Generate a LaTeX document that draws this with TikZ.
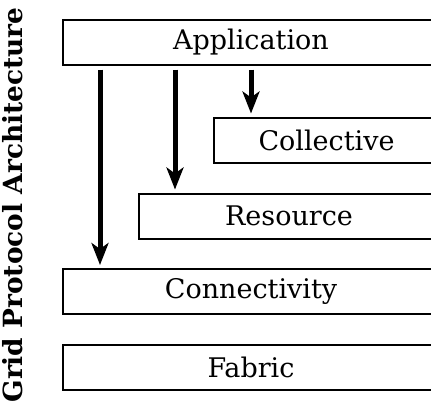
\documentclass[tikz,border=0pt]{standalone}
\usepackage{fontspec}
\setmainfont{DejaVu Serif}
\usetikzlibrary{arrows.meta}
\begin{document}
\begin{tikzpicture}[x=1pt,y=1pt,
  layer/.style={draw=black, line width=2pt, rectangle, minimum height=45pt, inner sep=0pt,
    anchor=west, font=\fontsize{27}{32}\selectfont},
  arr/.style={line width=5pt, -{Stealth[length=22pt,width=17pt,inset=6pt]}, shorten >=3pt, shorten <=4pt}]
\useasboundingbox (0,0) rectangle (431,-408);
\clip (0,0) rectangle (431,-408);
\node[layer, minimum width=376pt] (app) at (62,-42) {Application};
\node[layer, minimum width=225pt] (coll) at (213,-140) {Collective};
\node[layer, minimum width=300pt] (res) at (138,-216) {Resource};
\node[layer, minimum width=376pt] (conn) at (62,-291.5) {Connectivity};
\node[layer, minimum width=376pt] (fab) at (62,-367.5) {Fabric};
\coordinate (a1) at (100,0);
\coordinate (a2) at (175,0);
\coordinate (a3) at (251,0);
\draw[arr] (app.south -| a1) -- (conn.north -| a1);
\draw[arr] (app.south -| a2) -- (res.north -| a2);
\draw[arr] (app.south -| a3) -- (coll.north -| a3);
\node[rotate=90, font=\fontsize{26.4}{30}\selectfont\bfseries, inner sep=0pt] (title) at (13,-205) {Grid Protocol Architecture};
\end{tikzpicture}
\end{document}
